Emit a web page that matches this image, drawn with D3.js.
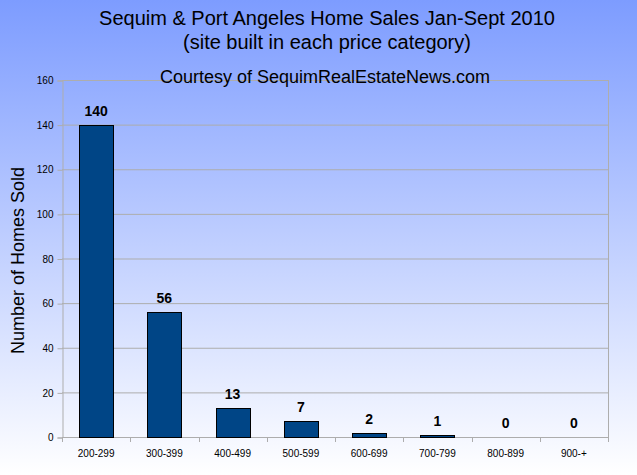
<!DOCTYPE html>
<html>
<head>
<meta charset="utf-8">
<script src="https://cdn.jsdelivr.net/npm/d3@7"></script>
<style>
  body { margin: 0; padding: 0; overflow: hidden; }
  text { font-family: "Liberation Sans", Arial, sans-serif; }
</style>
</head>
<body>
<script>
// price categories (thousands) and number of homes sold
var categories = ["200-299", "300-399", "400-499", "500-599", "600-699", "700-799", "800-899", "900-+"];
var homesSold = [140, 56, 13, 7, 2, 1, 0, 0];
var yTicks = [0, 20, 40, 60, 80, 100, 120, 140, 160];

var W = 637, H = 475;
var margin = {top: 80, right: 29, bottom: 38, left: 62},
    width = W - margin.left - margin.right,
    height = H - margin.top - margin.bottom;

var svg = d3.select("body").append("svg")
  .attr("width", W)
  .attr("height", H);

// background gradient
var grad = svg.append("defs").append("linearGradient")
  .attr("id", "bg").attr("x1", 0).attr("y1", 0).attr("x2", 0).attr("y2", 1);
grad.append("stop").attr("offset", "0%").attr("stop-color", "#7d9cff");
grad.append("stop").attr("offset", "100%").attr("stop-color", "#ffffff");

svg.append("rect").attr("width", W).attr("height", H).attr("fill", "url(#bg)");

var x = d3.scaleBand()
  .domain(categories)
  .range([0, width])
  .paddingInner(0.5)
  .paddingOuter(0.25);

var xTickScale = d3.scalePoint().domain(d3.range(categories.length + 1)).range([0, width]);

var y = d3.scaleLinear().domain([0, 160]).range([height, 0]);

var g = svg.append("g").attr("transform", "translate(" + margin.left + "," + margin.top + ")");

// gridlines
g.append("g").selectAll("line")
  .data(yTicks.filter(function(d){ return d > 0; }))
  .enter().append("line")
  .attr("x1", 0).attr("x2", width)
  .attr("y1", function(d){ return y(d) + 0.5; })
  .attr("y2", function(d){ return y(d) + 0.5; })
  .attr("stroke", "#adadad");

// right border
g.append("line")
  .attr("x1", width + 0.5).attr("x2", width + 0.5)
  .attr("y1", 0).attr("y2", height)
  .attr("stroke", "#adadad");

// y axis
var yAxis = d3.axisLeft(y).tickValues(yTicks).tickSize(5).tickPadding(4);
var ya = g.append("g").attr("transform", "translate(0.5,0.5)").call(yAxis);
ya.select(".domain").attr("stroke", "#adadad");
ya.selectAll(".tick line").attr("stroke", "#adadad");
ya.selectAll("text").attr("font-size", "10px").attr("fill", "#000")
  .style("font-family", "'Liberation Sans', Arial, sans-serif");

// x axis (ticks at category boundaries)
g.append("line")
  .attr("x1", 0).attr("x2", width)
  .attr("y1", height + 0.5).attr("y2", height + 0.5)
  .attr("stroke", "#adadad");
g.append("g").selectAll("line")
  .data(d3.range(categories.length + 1))
  .enter().append("line")
  .attr("x1", function(d){ return Math.round(xTickScale(d)) + 0.5; })
  .attr("x2", function(d){ return Math.round(xTickScale(d)) + 0.5; })
  .attr("y1", height).attr("y2", height + 5)
  .attr("stroke", "#adadad");

g.append("g").selectAll("text")
  .data(categories)
  .enter().append("text")
  .attr("x", function(d){ return x(d) + x.bandwidth() / 2; })
  .attr("y", height + 20)
  .attr("text-anchor", "middle")
  .attr("font-size", "10px")
  .text(function(d){ return d; });

// bars
g.append("g").selectAll("rect")
  .data(homesSold)
  .enter().append("rect")
  .attr("x", function(d, i){ return Math.round(x(categories[i])) + 0.5; })
  .attr("y", function(d){ return Math.round(y(d)) + 0.5; })
  .attr("width", Math.round(x.bandwidth()))
  .attr("height", function(d){ return Math.round(height - y(d)); })
  .attr("fill", "#004586")
  .attr("stroke", "#000")
  .attr("stroke-width", 1)
  .attr("display", function(d){ return d > 0 ? null : "none"; });

// value labels
g.append("g").selectAll("text")
  .data(homesSold)
  .enter().append("text")
  .attr("x", function(d, i){ return x(categories[i]) + x.bandwidth() / 2; })
  .attr("y", function(d){ return y(d) - 9; })
  .attr("text-anchor", "middle")
  .attr("font-size", "14px")
  .attr("font-weight", "bold")
  .text(function(d){ return d; });

// titles
svg.append("text").attr("x", 327).attr("y", 25).attr("text-anchor", "middle")
  .attr("font-size", "20px").text("Sequim & Port Angeles Home Sales Jan-Sept 2010");
svg.append("text").attr("x", 327).attr("y", 49).attr("text-anchor", "middle")
  .attr("font-size", "20px").text("(site built in each price category)");
svg.append("text").attr("x", 325).attr("y", 83).attr("text-anchor", "middle")
  .attr("font-size", "18px").text("Courtesy of SequimRealEstateNews.com");

// y axis title
svg.append("text")
  .attr("transform", "translate(24," + (margin.top + height / 2 + 2) + ") rotate(-90)")
  .attr("text-anchor", "middle")
  .attr("font-size", "18px")
  .text("Number of Homes Sold");
</script>
</body>
</html>
